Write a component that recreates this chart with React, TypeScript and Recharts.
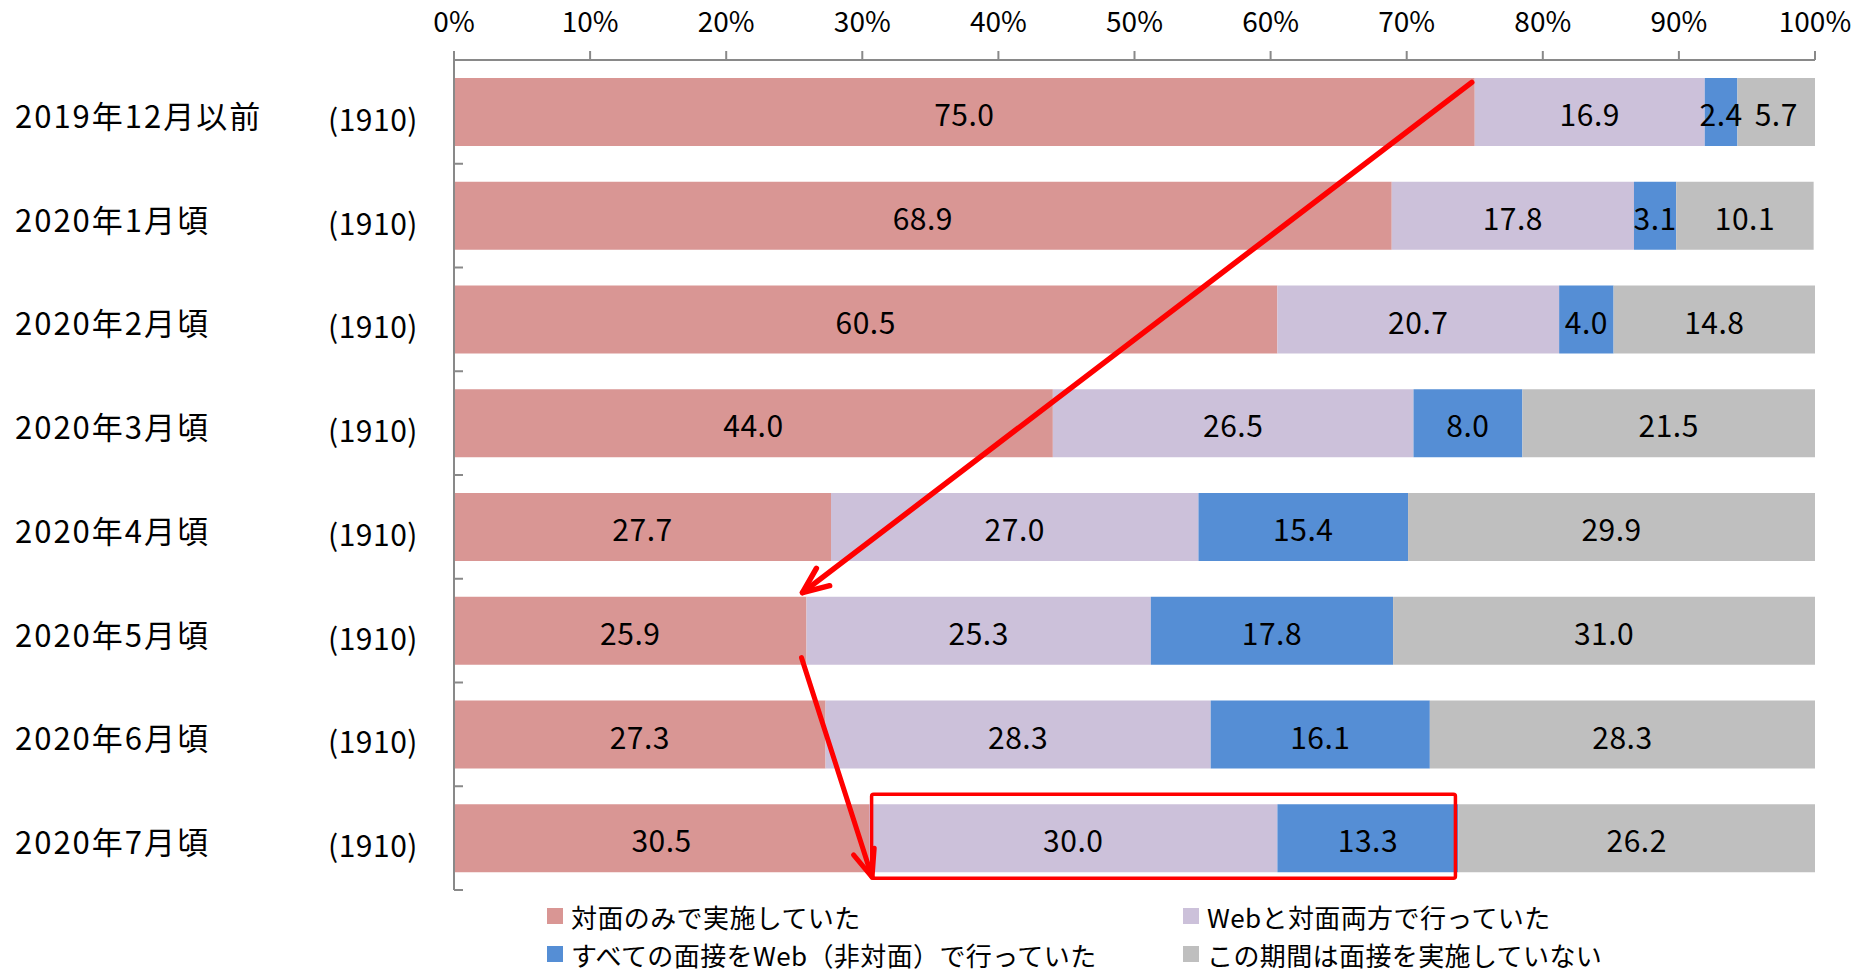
import React from "react";
import { Bar, BarChart, LabelList, XAxis, YAxis } from "recharts";

// 面接の実施形態（%）, n=1910
const categories = [
  "2019年12月以前",
  "2020年1月頃",
  "2020年2月頃",
  "2020年3月頃",
  "2020年4月頃",
  "2020年5月頃",
  "2020年6月頃",
  "2020年7月頃",
];
const sampleSizes = [1910, 1910, 1910, 1910, 1910, 1910, 1910, 1910];
const faceOnly = [75.0, 68.9, 60.5, 44.0, 27.7, 25.9, 27.3, 30.5];
const webAndFace = [16.9, 17.8, 20.7, 26.5, 27.0, 25.3, 28.3, 30.0];
const allWeb = [2.4, 3.1, 4.0, 8.0, 15.4, 17.8, 16.1, 13.3];
const notHeld = [5.7, 10.1, 14.8, 21.5, 29.9, 31.0, 28.3, 26.2];
const xTicks = [0, 10, 20, 30, 40, 50, 60, 70, 80, 90, 100];

const series = [
  { key: "faceOnly", name: "対面のみで実施していた", color: "#D99694" },
  { key: "webAndFace", name: "Webと対面両方で行っていた", color: "#CCC1DA" },
  { key: "allWeb", name: "すべての面接をWeb（非対面）で行っていた", color: "#558ED5" },
  { key: "notHeld", name: "この期間は面接を実施していない", color: "#BFBFBF" },
];

const data = categories.map((name, i) => ({
  name,
  faceOnly: faceOnly[i],
  webAndFace: webAndFace[i],
  allWeb: allWeb[i],
  notHeld: notHeld[i],
}));

const W = 1865;
const H = 969;
const PLOT_LEFT = 454;
const PLOT_RIGHT = 1815;
const PLOT_TOP = 60;
const PLOT_BOTTOM = 890;
const BAND = (PLOT_BOTTOM - PLOT_TOP) / categories.length;
const BAR_SIZE = 68;
const AXIS = "#898989";
const FONT = '"Noto Sans CJK JP", "Noto Sans", sans-serif';

const px = (v: number) => PLOT_LEFT + (v / 100) * (PLOT_RIGHT - PLOT_LEFT);
const barTop = (i: number) => PLOT_TOP + i * BAND + (BAND - BAR_SIZE) / 2;

const PercentTick = ({ x, payload }: any) => (
  <text x={x} y={32} textAnchor="middle" fontSize={28} fill="#000" fontFamily={FONT}>
    {payload.value}%
  </text>
);

const CategoryTick = ({ y, payload, index }: any) => {
  const i = payload?.index ?? index ?? categories.indexOf(payload.value);
  return (
    <g>
      <text x={15} y={y} dy={16} fontSize={31} letterSpacing={2} fill="#000" fontFamily={FONT}>
        {payload.value}
      </text>
      <text x={373} y={y} dy={19} fontSize={30} letterSpacing={0.5} textAnchor="middle" fill="#000" fontFamily={FONT}>
        ({sampleSizes[i]})
      </text>
      <line x1={PLOT_LEFT} x2={PLOT_LEFT + 9} y1={y - BAND / 2} y2={y - BAND / 2} stroke={AXIS} strokeWidth={2} />
      {i === categories.length - 1 && (
        <line x1={PLOT_LEFT} x2={PLOT_LEFT + 9} y1={y + BAND / 2} y2={y + BAND / 2} stroke={AXIS} strokeWidth={2} />
      )}
    </g>
  );
};

const makeValueLabel = (values: number[]) => (props: any) => {
  const { x, y, width, height, index } = props;
  const v = values[index];
  return (
    <text
      x={x + width / 2}
      y={y + height / 2 + 14}
      textAnchor="middle"
      fontSize={30}
      letterSpacing={0.5}
      fill="#000"
      fontFamily={FONT}
    >
      {v.toFixed(1)}
    </text>
  );
};

const seriesValues: Record<string, number[]> = { faceOnly, webAndFace, allWeb, notHeld };

// open V arrow head
const arrowHead = (x1: number, y1: number, x2: number, y2: number, len = 28, spread = 23) => {
  const back = Math.atan2(y1 - y2, x1 - x2);
  const a = (spread * Math.PI) / 180;
  const p1 = [x2 + len * Math.cos(back + a), y2 + len * Math.sin(back + a)];
  const p2 = [x2 + len * Math.cos(back - a), y2 + len * Math.sin(back - a)];
  return `M${p1[0]},${p1[1]} L${x2},${y2} L${p2[0]},${p2[1]}`;
};

const Annotations = () => {
  const a1 = [px(faceOnly[0]) - 3, barTop(0) + 4.5, px(faceOnly[5]) - 4, barTop(5) - 4];
  const a2 = [px(faceOnly[5]) - 5, barTop(5) + BAR_SIZE - 7, px(faceOnly[7]) + 3, barTop(7) + BAR_SIZE + 5];
  const rx1 = px(faceOnly[7]) + 2.5;
  const rx2 = px(faceOnly[7] + webAndFace[7] + allWeb[7]) - 3;
  const ry1 = barTop(7) - 10;
  const ry2 = barTop(7) + BAR_SIZE + 6;
  return (
    <svg width={W} height={H} style={{ position: "absolute", left: 0, top: 0, pointerEvents: "none" }}>
      <g stroke="#FF0000" fill="none" strokeLinecap="round" strokeLinejoin="round">
        <line x1={a1[0]} y1={a1[1]} x2={a1[2]} y2={a1[3]} strokeWidth={5.5} />
        <path d={arrowHead(a1[0], a1[1], a1[2], a1[3])} strokeWidth={5.5} />
        <line x1={a2[0]} y1={a2[1]} x2={a2[2]} y2={a2[3]} strokeWidth={5} />
        <path d={arrowHead(a2[0], a2[1], a2[2], a2[3], 29, 22)} strokeWidth={5} />
        <rect x={rx1} y={ry1} width={rx2 - rx1} height={ry2 - ry1} rx={2} strokeWidth={3.5} />
      </g>
    </svg>
  );
};

const LegendBox = () => {
  const pos = [
    { left: 547, top: 916 },
    { left: 1183, top: 916 },
    { left: 547, top: 954 },
    { left: 1183, top: 954 },
  ];
  return (
    <>
      {series.map((s, i) => (
        <div
          key={s.key}
          style={{
            position: "absolute",
            left: pos[i].left,
            top: pos[i].top - 18,
            height: 36,
            display: "flex",
            alignItems: "center",
            fontFamily: FONT,
            fontSize: 26,
            letterSpacing: 0.4,
            color: "#000",
            whiteSpace: "nowrap",
          }}
        >
          <span style={{ width: 16, height: 16, background: s.color, display: "inline-block", marginRight: 8 }} />
          <span>{s.name}</span>
        </div>
      ))}
    </>
  );
};

export default function App() {
  return (
    <div style={{ position: "absolute", left: 0, top: 0, width: W, height: H, background: "#fff", fontFamily: FONT }}>
      <BarChart
        width={W}
        height={H}
        data={data}
        layout="vertical"
        margin={{ top: 0, right: W - PLOT_RIGHT, bottom: H - PLOT_BOTTOM, left: 0 }}
        barSize={BAR_SIZE}
      >
        <XAxis
          type="number"
          orientation="top"
          domain={[0, 100]}
          ticks={xTicks}
          height={PLOT_TOP}
          tickSize={9}
          axisLine={{ stroke: AXIS, strokeWidth: 2 }}
          tickLine={{ stroke: AXIS, strokeWidth: 2 }}
          tick={<PercentTick />}
          interval={0}
        />
        <YAxis
          type="category"
          dataKey="name"
          width={PLOT_LEFT}
          axisLine={{ stroke: AXIS, strokeWidth: 2 }}
          tickLine={false}
          tick={<CategoryTick />}
          interval={0}
        />
        {series.map((s) => (
          <Bar key={s.key} dataKey={s.key} name={s.name} stackId="a" fill={s.color} isAnimationActive={false}>
            <LabelList dataKey={s.key} content={makeValueLabel(seriesValues[s.key])} />
          </Bar>
        ))}
      </BarChart>
      <Annotations />
      <LegendBox />
    </div>
  );
}
